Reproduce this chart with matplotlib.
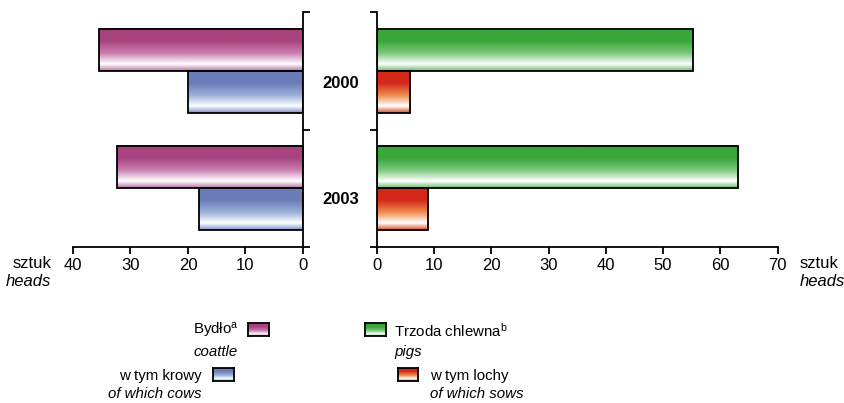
import matplotlib.pyplot as plt
import numpy as np
from matplotlib.colors import LinearSegmentedColormap

plt.rcParams["font.family"] = ["Liberation Sans", "DejaVu Sans"]
plt.rcParams["mathtext.fontset"] = "custom"
plt.rcParams["mathtext.rm"] = "Liberation Sans"
plt.rcParams["mathtext.it"] = "Liberation Sans:italic"

years = ["2000", "2003"]
cattle = [35.4, 32.4]
cows = [20.0, 18.1]
pigs = [55.3, 63.0]
sows = [5.9, 8.9]

left_ticks = [40, 30, 20, 10, 0]
right_ticks = [0, 10, 20, 30, 40, 50, 60, 70]


def make_cmap(name, top, mid, bottom):
    return LinearSegmentedColormap.from_list(
        name,
        [(0.0, top), (0.3, top), (0.58, mid), (0.84, "#ffffff"), (1.0, bottom)],
    )


cm_cattle = make_cmap("cattle", "#a8437f", "#c97fb0", "#b474a4")
cm_cows = make_cmap("cows", "#6a7db8", "#9aaed8", "#7f90c8")
cm_pigs = make_cmap("pigs", "#3aa63a", "#7cc77c", "#6cbb6c")
cm_sows = make_cmap("sows", "#d4281a", "#ee8a4a", "#d8502a")

grad = np.linspace(0, 1, 200).reshape(-1, 1)
bar_h = 0.358


def gradient_bar(ax, y, value, cmap):
    ax.imshow(grad, extent=[0, value, y + bar_h / 2, y - bar_h / 2],
              aspect="auto", cmap=cmap, origin="upper", zorder=1,
              interpolation="bilinear")
    ax.barh(y, value, height=bar_h, facecolor="none", edgecolor="black",
            linewidth=1.3, zorder=2)


fig = plt.figure(figsize=(8.45, 4.03), dpi=100)
W, H = 845, 403


def fx(px):
    return px / W


def fy(py):
    return 1 - py / H


ax_l = fig.add_axes([fx(73), fy(247), fx(303) - fx(73), fy(12.3) - fy(247)])
ax_r = fig.add_axes([fx(376.7), fy(247), fx(777.7) - fx(376.7), fy(12.3) - fy(247)])

for i in range(len(years)):
    gradient_bar(ax_l, i - bar_h / 2, cattle[i], cm_cattle)
    gradient_bar(ax_l, i + bar_h / 2, cows[i], cm_cows)
    gradient_bar(ax_r, i - bar_h / 2, pigs[i], cm_pigs)
    gradient_bar(ax_r, i + bar_h / 2, sows[i], cm_sows)

for ax in (ax_l, ax_r):
    ax.set_ylim(1.5, -0.5)
    ax.set_yticks([-0.5, 0.5, 1.5])
    ax.set_yticklabels([])
    ax.spines["top"].set_visible(False)
    ax.tick_params(axis="both", direction="out", length=5, width=1.3,
                   labelsize=12, pad=3)
    for s in ax.spines.values():
        s.set_linewidth(1.3)

ax_l.set_xlim(40, 0)
ax_l.set_xticks(left_ticks)
ax_l.spines["left"].set_visible(False)
ax_l.yaxis.tick_right()

ax_r.set_xlim(0, 70)
ax_r.set_xticks(right_ticks)
ax_r.spines["right"].set_visible(False)

for i, yr in enumerate(years):
    fig.text(fx(341), fy(83 + i * 116), yr, ha="center", va="center",
             fontsize=12, fontweight="bold")

fig.text(fx(51), fy(263), "sztuk", ha="right", va="center", fontsize=12)
fig.text(fx(51), fy(282), "heads", ha="right", va="center", fontsize=12, style="italic")
fig.text(fx(800), fy(263), "sztuk", ha="left", va="center", fontsize=12)
fig.text(fx(800), fy(282), "heads", ha="left", va="center", fontsize=12, style="italic")


def legend_box(x0, y0, x1, y1, cmap):
    a = fig.add_axes([fx(x0), fy(y1), fx(x1) - fx(x0), fy(y0) - fy(y1)])
    a.imshow(grad, aspect="auto", cmap=cmap, interpolation="bilinear")
    a.set_xticks([])
    a.set_yticks([])
    for s in a.spines.values():
        s.set_linewidth(1.3)


legend_box(248, 323, 269, 336, cm_cattle)
legend_box(213, 368, 234, 381, cm_cows)
legend_box(365, 323, 386, 336, cm_pigs)
legend_box(398, 368, 418, 381, cm_sows)

fs = 10.8
fig.text(fx(239), fy(331), r"Bydło$^{\rm a}$", ha="right", va="center", fontsize=fs)
fig.text(fx(238), fy(352), "coattle", ha="right", va="center", fontsize=fs, style="italic")
fig.text(fx(202), fy(376), "w tym krowy", ha="right", va="center", fontsize=fs)
fig.text(fx(202), fy(394), "of which cows", ha="right", va="center", fontsize=fs, style="italic")
fig.text(fx(394), fy(331), r"Trzoda chlewna$^{\rm b}$", ha="left", va="center", fontsize=fs)
fig.text(fx(394), fy(352), "pigs", ha="left", va="center", fontsize=fs, style="italic")
fig.text(fx(430), fy(376), "w tym lochy", ha="left", va="center", fontsize=fs)
fig.text(fx(430), fy(394), "of which sows", ha="left", va="center", fontsize=fs, style="italic")

fig.savefig("out.png", dpi=100)
